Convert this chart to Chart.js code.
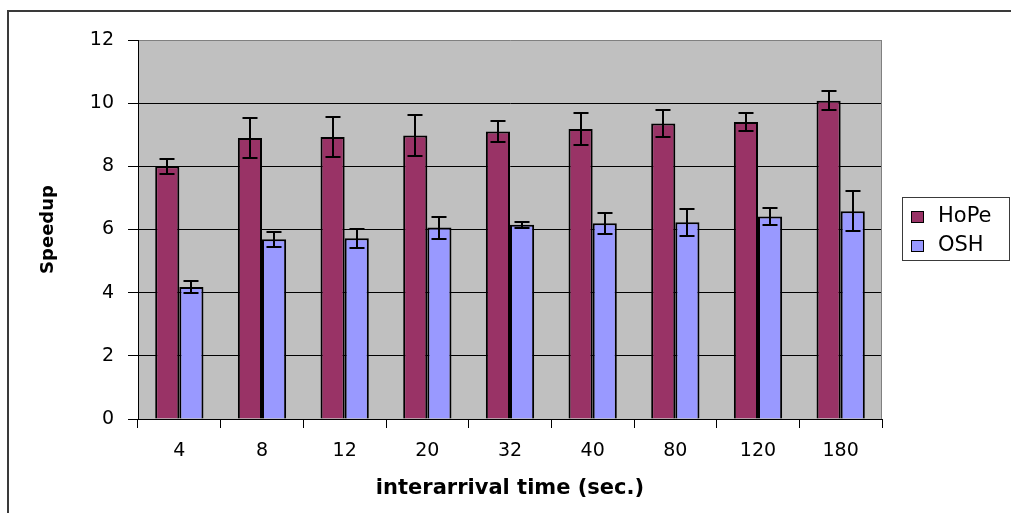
<!DOCTYPE html>
<html>
<head>
<meta charset="utf-8">
<script src="https://cdn.jsdelivr.net/npm/chart.js@4/dist/chart.umd.min.js"></script>
<style>
  html, body { margin: 0; padding: 0; background: #ffffff; }
  #wrap { width: 1011px; height: 513px; position: relative; }
</style>
</head>
<body>
<div id="wrap"><canvas id="c" width="1011" height="513"></canvas></div>
<script>
// Interarrival time categories (seconds)
const categories = ['4', '8', '12', '20', '32', '40', '80', '120', '180'];
// Mean speedup and half-width of the error bar per category
const hopeSpeedup = [8.0, 8.9, 8.93, 8.98, 9.1, 9.18, 9.36, 9.4, 10.08];
const hopeError   = [0.23, 0.63, 0.62, 0.64, 0.32, 0.5, 0.43, 0.28, 0.3];
const oshSpeedup  = [4.18, 5.69, 5.72, 6.06, 6.15, 6.2, 6.23, 6.41, 6.58];
const oshError    = [0.19, 0.23, 0.3, 0.35, 0.1, 0.33, 0.43, 0.28, 0.63];
// Speedup axis range and step
const yMin = 0, yMax = 12, yStep = 2;

const FONT = 'DejaVu Sans';

// Grey plot background, outer frame and plot-area edge
const backdrop = {
  id: 'backdrop',
  beforeDraw(chart) {
    const { ctx, chartArea: a } = chart;
    ctx.save();
    ctx.fillStyle = '#c0c0c0';
    ctx.fillRect(a.left, a.top, a.right - a.left, a.bottom - a.top);
    ctx.strokeStyle = '#3a3a3a';
    ctx.lineWidth = 2;
    ctx.beginPath();
    ctx.moveTo(8, 513);
    ctx.lineTo(8, 11);
    ctx.lineTo(1011, 11);
    ctx.stroke();
    ctx.restore();
  },
  beforeDatasetsDraw(chart) {
    const { ctx, chartArea: a } = chart;
    ctx.save();
    ctx.strokeStyle = '#808080';
    ctx.lineWidth = 1;
    ctx.beginPath();
    ctx.moveTo(a.right - 0.5, a.top);
    ctx.lineTo(a.right - 0.5, a.bottom);
    ctx.stroke();
    ctx.restore();
  }
};

// Symmetric error bars with caps, placed through the value scale
const errorBars = {
  id: 'errorBars',
  afterDatasetsDraw(chart) {
    const { ctx } = chart;
    const yScale = chart.scales.y;
    ctx.save();
    ctx.strokeStyle = '#000000';
    ctx.lineWidth = 2;
    chart.data.datasets.forEach((ds, i) => {
      const meta = chart.getDatasetMeta(i);
      meta.data.forEach((bar, j) => {
        const v = ds.data[j], e = ds.errors[j];
        const yTop = Math.round(yScale.getPixelForValue(v + e));
        const yBot = Math.round(yScale.getPixelForValue(v - e));
        const x = Math.round(bar.x);
        const half = 7.5;
        ctx.beginPath();
        ctx.moveTo(x, yTop); ctx.lineTo(x, yBot);
        ctx.moveTo(x - half, yTop); ctx.lineTo(x + half, yTop);
        ctx.moveTo(x - half, yBot); ctx.lineTo(x + half, yBot);
        ctx.stroke();
      });
    });
    ctx.restore();
  }
};

// Boxed legend to the right of the plot
const boxLegend = {
  id: 'boxLegend',
  afterDraw(chart) {
    const { ctx } = chart;
    const x = 902, y = 197, w = 107, h = 63;
    ctx.save();
    ctx.fillStyle = '#ffffff';
    ctx.fillRect(x, y, w, h);
    ctx.strokeStyle = '#3a3a3a';
    ctx.lineWidth = 1;
    ctx.strokeRect(x + 0.5, y + 0.5, w, h);
    ctx.font = '21px "' + FONT + '"';
    ctx.textBaseline = 'middle';
    ctx.textAlign = 'left';
    chart.data.datasets.forEach((ds, i) => {
      const cy = 216 + i * 29;
      ctx.fillStyle = ds.backgroundColor;
      ctx.fillRect(911, cy - 5, 12, 11);
      ctx.strokeStyle = '#000000';
      ctx.strokeRect(911.5, cy - 4.5, 12, 11);
      ctx.fillStyle = '#000000';
      ctx.fillText(ds.label, 938, cy + 1);
    });
    ctx.restore();
  }
};

new Chart(document.getElementById('c'), {
  type: 'bar',
  data: {
    labels: categories,
    datasets: [
      { label: 'HoPe', data: hopeSpeedup, errors: hopeError,
        backgroundColor: '#993366', borderColor: '#000000', borderWidth: 2 },
      { label: 'OSH', data: oshSpeedup, errors: oshError,
        backgroundColor: '#9999ff', borderColor: '#000000', borderWidth: 2 }
    ]
  },
  options: {
    responsive: false,
    animation: false,
    devicePixelRatio: 1,
    layout: { padding: { top: 40, right: 129, left: 0, bottom: 0 } },
    datasets: { bar: { categoryPercentage: 0.584, barPercentage: 1 } },
    plugins: {
      legend: { display: false },
      tooltip: { enabled: false }
    },
    scales: {
      x: {
        offset: true,
        afterFit(scale) { scale.height = 94; },
        grid: { offset: true, drawOnChartArea: false, drawTicks: true, tickLength: 9, tickColor: '#000000' },
        border: { color: '#000000', width: 1 },
        ticks: { color: '#000000', font: { family: FONT, size: 19 }, padding: 12, maxRotation: 0 },
        title: { display: true, text: 'interarrival time (sec.)', color: '#000000',
                 font: { family: FONT, size: 21, weight: 'bold' }, padding: { top: 0, bottom: 12 } }
      },
      y: {
        min: yMin, max: yMax,
        afterFit(scale) { scale.width = 138; },
        grid: {
          color: c => (c.tick && c.tick.value === yMax) ? '#808080' : '#000000',
          lineWidth: 1, tickLength: 10, tickColor: '#000000'
        },
        border: { color: '#000000', width: 1 },
        ticks: { stepSize: yStep, color: '#000000', font: { family: FONT, size: 19 }, padding: 14 },
        title: { display: true, text: 'Speedup', color: '#000000',
                 font: { family: FONT, size: 18, weight: 'bold' }, padding: { top: 38, bottom: 0 } }
      }
    }
  },
  plugins: [backdrop, errorBars, boxLegend]
});
</script>
</body>
</html>
